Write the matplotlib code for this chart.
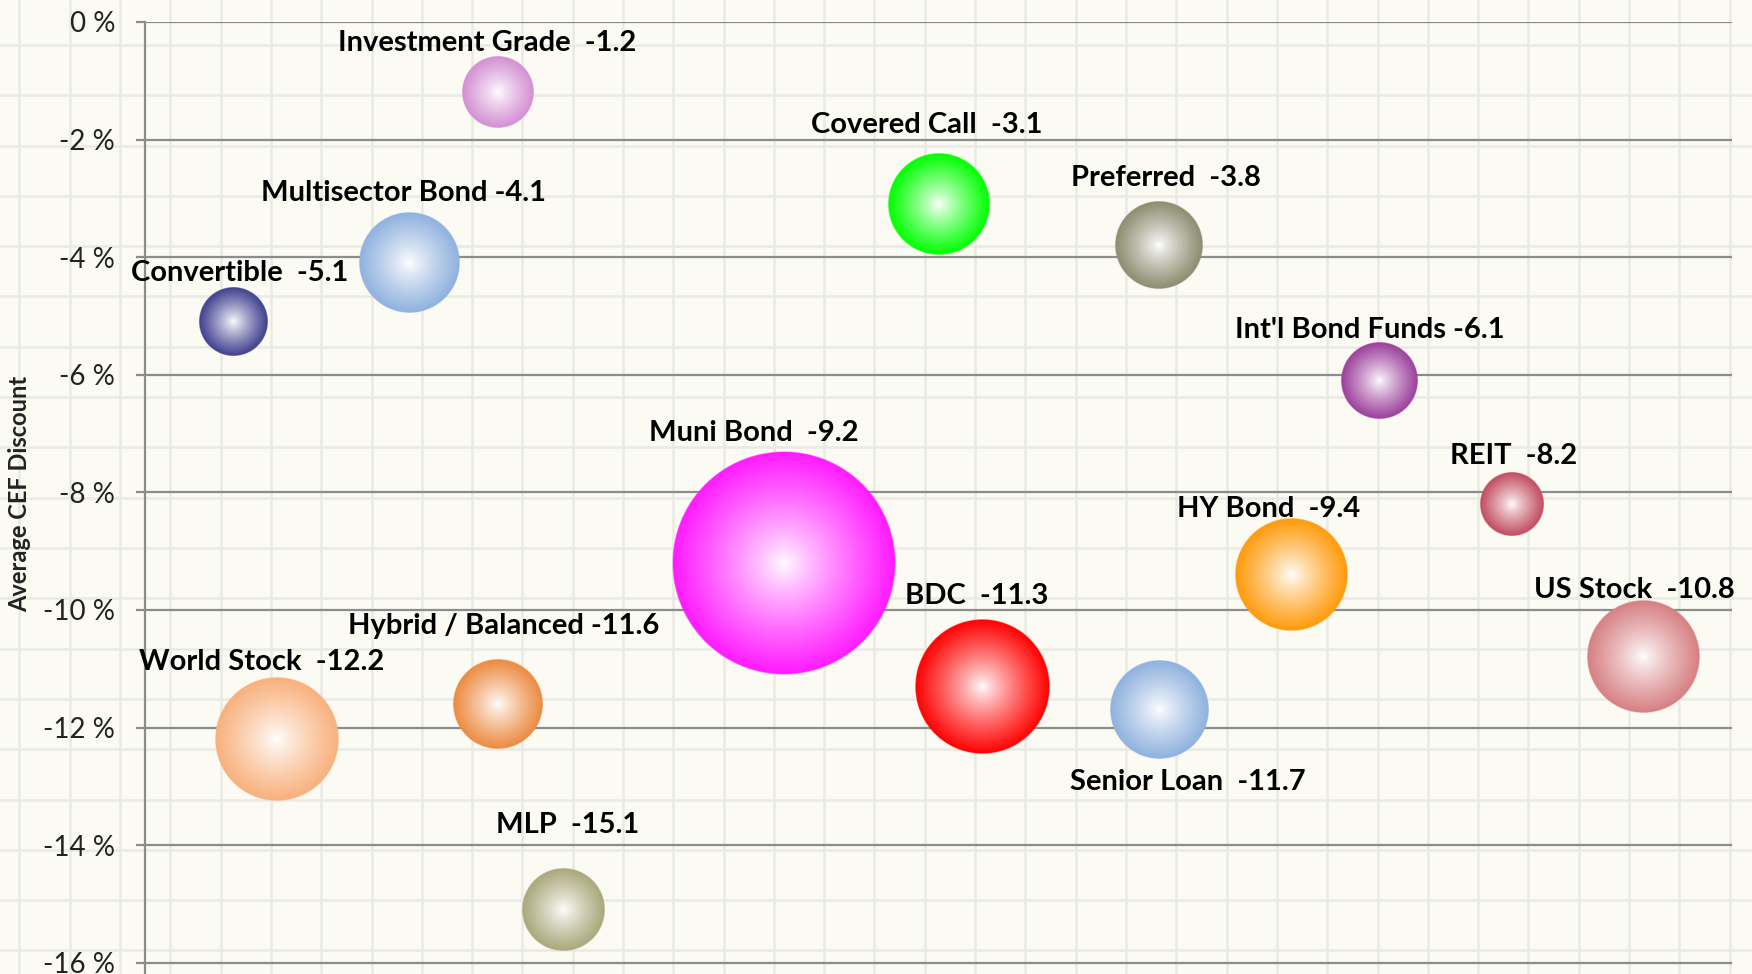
import numpy as np
import matplotlib
matplotlib.use("Agg")
import matplotlib.pyplot as plt
from matplotlib.colors import to_rgb
from matplotlib.lines import Line2D

# CEF sectors: position along x, average discount (%), bubble size (area units)
categories = ["Investment Grade", "Multisector Bond", "Convertible", "Covered Call",
              "Preferred", "Int'l Bond Funds", "REIT", "HY Bond", "US Stock",
              "Muni Bond", "BDC", "Senior Loan", "Hybrid / Balanced", "World Stock", "MLP"]
x_pos = [8, 6, 2, 18, 23, 28, 31, 26, 34, 14.5, 19, 23, 8, 3, 9.5]
discounts = [-1.2, -4.1, -5.1, -3.1, -3.8, -6.1, -8.2, -9.4, -10.8,
             -9.2, -11.3, -11.7, -11.6, -12.2, -15.1]
bubble_size = [10.2, 20.2, 9.3, 20.6, 15.1, 11.7, 8.1, 25.4, 25.4,
               100, 36.3, 19.3, 15.9, 30.4, 13.6]
colors = ["#d38fd3", "#8fb1de", "#3f3f8f", "#00ff00", "#8c8c70", "#9b3f9b",
          "#c24a5e", "#ff9a0a", "#d67f82", "#ff19ff", "#ff0000", "#8fb1de",
          "#ec8a40", "#f8b07c", "#a9a77a"]
single_space = {"Multisector Bond", "Int'l Bond Funds", "Hybrid / Balanced"}

# label offsets from bubble centre, in pixels
label_offsets = [(-10, 50), (-6, 70), (7, 49), (-12, 79), (7, 67), (-10, 51),
                 (2, 48), (-23, 66), (-9, 67), (-30, 130), (-6, 90), (29, -72),
                 (6, 78), (-16, 77), (4, 85)]

W, H, DPI = 1752, 974, 100
FONT = "Lato"
GRID = "#8c8c8c"

fig = plt.figure(figsize=(W / DPI, H / DPI), dpi=DPI, facecolor="#fbfbf4")

# faint paper-like grid behind the whole chart
for px in np.arange(120 - 2 * 50.3, W, 50.3):
    fig.add_artist(Line2D([px / W, px / W], [0, 1], transform=fig.transFigure,
                          color="#e9eae3", lw=1.8, zorder=-5))
for py in np.arange(45 - 50.3, H, 50.3):
    fig.add_artist(Line2D([0, 1], [1 - py / H, 1 - py / H], transform=fig.transFigure,
                          color="#e9eae3", lw=1.8, zorder=-5))

xmin, xmax = 0, 36
ymin, ymax = -17, 0
left, right, top, per_pct = 145, 1732, 22, 58.8
ax_h = (ymax - ymin) * per_pct
ax = fig.add_axes([left / W, (H - top - ax_h) / H, (right - left) / W, ax_h / H])
ax.set_facecolor("none")

px_x = (right - left) / (xmax - xmin)
px_y = per_pct
d_max = 224


def sphere(color, n=300):
    yy, xx = np.mgrid[-1:1:n * 1j, -1:1:n * 1j]
    r = np.hypot(xx, yy)
    t = np.clip(r, 0, 1) ** 0.85
    rgb = np.array(to_rgb(color))
    img = np.empty((n, n, 4))
    img[..., :3] = (1 - t[..., None]) + t[..., None] * rgb
    img[..., 3] = np.clip((1 - r) * n / 2, 0, 1)
    return img


s_max = max(bubble_size)
for name, x, y, s, c, (dx, dy) in zip(categories, x_pos, discounts, bubble_size,
                                       colors, label_offsets):
    rad = d_max * np.sqrt(s / s_max) / 2
    rx, ry = rad / px_x, rad / px_y
    ax.imshow(sphere(c), extent=[x - rx, x + rx, y - ry, y + ry], aspect="auto",
              interpolation="bilinear", zorder=3)
    sep = " " if name in single_space else "  "
    ax.annotate(f"{name}{sep}{y:.1f}", (x, y), xytext=(dx, dy), textcoords="offset pixels",
                ha="center", va="center", fontsize=21, fontweight="bold",
                family=FONT, color="black", annotation_clip=False, zorder=4)

ax.set_xlim(xmin, xmax)
ax.set_ylim(ymin, ymax)

yticks = list(range(-16, 1, 2))
ax.set_yticks(yticks)
ax.set_yticklabels([f"{v} %" for v in yticks], fontsize=20, family=FONT, color="#222222")
ax.set_xticks([])
ax.tick_params(axis="y", length=6.5, width=1.6, color=GRID, pad=15)
ax.set_axisbelow(True)
ax.grid(axis="y", color=GRID, lw=1.6)

for side in ["top", "right", "bottom"]:
    ax.spines[side].set_visible(False)
ax.spines["left"].set_color(GRID)
ax.spines["left"].set_linewidth(1.6)

fig.text(20 / W, 1 - 494 / H, "Average CEF Discount", rotation=90, ha="center", va="center",
         fontsize=17, fontweight="bold", family=FONT, color="#222222")

fig.savefig("out.png", dpi=DPI, facecolor=fig.get_facecolor())
